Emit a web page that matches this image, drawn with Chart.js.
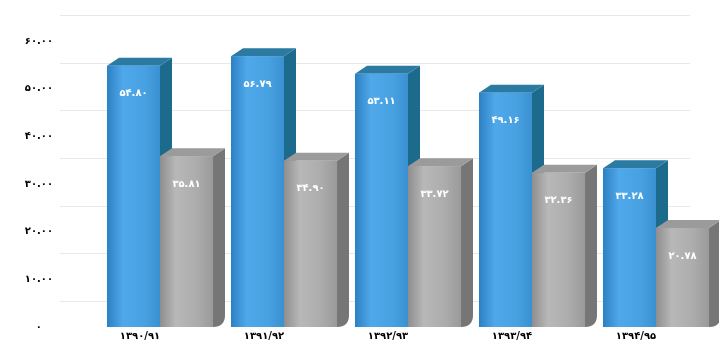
<!DOCTYPE html>
<html>
<head>
<meta charset="utf-8">
<script src="https://cdn.jsdelivr.net/npm/chart.js@4/dist/chart.umd.min.js"></script>
<style>
  html, body { margin: 0; padding: 0; background: #fff; }
  #wrap { width: 719px; height: 346px; }
</style>
</head>
<body>
<div id="wrap"><canvas id="myChart" width="719" height="346"></canvas></div>
<script>
var years = ['۱۳۹۰/۹۱', '۱۳۹۱/۹۲', '۱۳۹۲/۹۳', '۱۳۹۳/۹۴', '۱۳۹۴/۹۵'];
var seriesA = [54.80, 56.79, 53.11, 49.16, 33.28];
var seriesB = [35.81, 34.90, 33.72, 32.36, 20.78];
var yTicks = [0, 10, 20, 30, 40, 50, 60];

var faDigits = '۰۱۲۳۴۵۶۷۸۹';
function fa(s) {
    return String(s).replace(/[0-9]/g, function (d) { return faDigits[d]; });
}

// 3d look: depth of the side and top faces
var dx = 12, dy = 8;
var faces = [
    { front: ['#2d80c2', '#4ea8ea', '#48a1e1', '#3a91d2'], side: '#1c6a8c', top: '#2a7aa2' },
    { front: ['#8e8e8e', '#b8b8b8', '#acacac', '#9a9a9a'], side: '#767676', top: '#9b9b9b' }
];

var bars3d = {
    id: 'bars3d',
    beforeDatasetsDraw: function (chart) {
        var c = chart.ctx, area = chart.chartArea, y = chart.scales.y;
        c.save();
        // back wall lines
        c.strokeStyle = '#e8e8e8';
        c.lineWidth = 1;
        y.ticks.forEach(function (t) {
            var py = Math.round(y.getPixelForValue(t.value) - 26) + 0.5;
            c.beginPath();
            c.moveTo(area.left - 38, py);
            c.lineTo(area.right - 28, py);
            c.stroke();
        });
        chart.data.datasets.forEach(function (ds, i) {
            chart.getDatasetMeta(i).data.forEach(function (bar) {
                var l = bar.x - bar.width / 2, r = bar.x + bar.width / 2, t = bar.y, b = bar.base;
                c.fillStyle = faces[i].side;
                c.beginPath();
                c.moveTo(r, t); c.lineTo(r + dx, t - dy); c.lineTo(r + dx, b - dy - 4);
                c.quadraticCurveTo(r + dx, b, r, b);
                c.closePath(); c.fill();
                c.fillStyle = faces[i].top;
                c.beginPath();
                c.moveTo(l, t); c.lineTo(l + dx, t - dy); c.lineTo(r + dx, t - dy); c.lineTo(r, t);
                c.closePath(); c.fill();
            });
        });
        c.restore();
    },
    afterDatasetsDraw: function (chart) {
        var c = chart.ctx;
        c.save();
        chart.data.datasets.forEach(function (ds, i) {
            chart.getDatasetMeta(i).data.forEach(function (bar, j) {
                var l = bar.x - bar.width / 2, r = bar.x + bar.width / 2;
                var g = c.createLinearGradient(l, 0, r, 0);
                g.addColorStop(0, faces[i].front[0]);
                g.addColorStop(0.3, faces[i].front[1]);
                g.addColorStop(0.7, faces[i].front[2]);
                g.addColorStop(1, faces[i].front[3]);
                c.fillStyle = g;
                c.fillRect(l, bar.y, r - l, bar.base - bar.y);
                c.fillStyle = '#fff';
                c.font = 'bold 10px "DejaVu Sans"';
                c.textAlign = 'center';
                c.textBaseline = 'middle';
                c.fillText(fa(ds.data[j].toFixed(2)), bar.x, bar.y + 28);
            });
        });
        c.restore();
    }
};

var ctx = document.getElementById('myChart').getContext('2d');
var chart = new Chart(ctx, {
    type: 'bar',
    data: {
        labels: years,
        datasets: [{
            label: 'A',
            backgroundColor: '#48a1e1',
            data: seriesA,
        }, {
            label: 'B',
            backgroundColor: '#acacac',
            data: seriesB,
        }]
    },
    options: {
        responsive: false,
        animation: false,
        layout: { padding: { top: 41, right: 1, bottom: 0, left: 0 } },
        categoryPercentage: 0.855,
        barPercentage: 1,
        plugins: { legend: { display: false }, tooltip: { enabled: false } },
        scales: {
            x: {
                grid: { display: false, drawTicks: false },
                border: { display: false },
                ticks: {
                    color: '#000',
                    padding: 3,
                    labelOffset: -20,
                    font: { family: 'DejaVu Sans', size: 10, weight: 'bold' }
                },
                afterFit: function (s) { s.height = 19; }
            },
            y: {
                min: 0,
                max: 60,
                afterBuildTicks: function (s) { s.ticks = yTicks.map(function (v) { return { value: v }; }); },
                grid: { display: false, drawTicks: true, tickLength: 45 },
                border: { display: false },
                ticks: {
                    color: '#000',
                    padding: 0,
                    crossAlign: 'center',
                    font: { family: 'DejaVu Sans', size: 10, weight: 'bold' },
                    callback: function (v) { return v === 0 ? fa('0') : fa(v.toFixed(2)); }
                },
                afterFit: function (s) { s.width = 98; }
            }
        }
    },
    plugins: [bars3d]
});
</script>
</body>
</html>
